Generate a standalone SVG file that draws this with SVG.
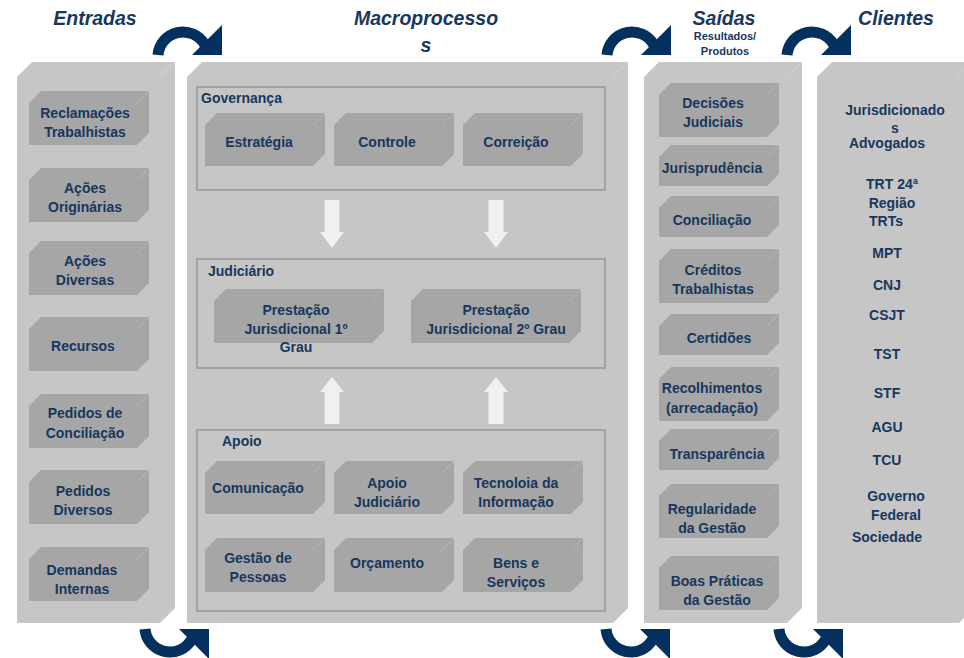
<svg xmlns="http://www.w3.org/2000/svg" width="964" height="658" viewBox="0 0 964 658">
<style>
text{font-family:"Liberation Sans",Arial,sans-serif;font-weight:bold;fill:#17375e;}
.t{font-size:14px;text-anchor:middle;}
.l{font-size:14px;}
.h{font-size:19.5px;font-style:italic;text-anchor:middle;}
.s{font-size:11px;text-anchor:middle;}
.col{fill:#c6c6c6;}
.node{fill:#a6a6a6;}
.hl{stroke:#b6b6b6;stroke-width:1;fill:none;}
.chl{stroke:#d6d6d6;stroke-width:1;fill:none;}
.frame{fill:none;stroke:#a2a2a2;stroke-width:2;}
.band{fill:none;stroke:#04305f;stroke-width:11;}
.head{fill:#04305f;}
.blk{fill:#f0f0f2;}
</style>
<defs>
<g id="curveTop"><path class="band" d="M5,55 A25,25 0 0 1 51.6,44.5"/><polygon class="head" points="69,25 69,55 39,55"/></g>
<g id="curveBot"><path class="band" d="M5,629 A25,25 0 0 0 51.6,639.5"/><polygon class="head" points="39,629 69,629 69,659"/></g>
</defs>
<rect width="964" height="658" fill="#ffffff"/>

<!-- headers -->
<text class="h" x="95" y="25">Entradas</text>
<text class="h" x="426" y="25">Macroprocesso</text>
<text class="h" x="426" y="52">s</text>
<text class="h" x="724" y="25">Saídas</text>
<text class="s" x="725" y="40">Resultados/</text>
<text class="s" x="725" y="55">Produtos</text>
<text class="h" x="896" y="25">Clientes</text>

<!-- columns -->
<g id="col-entradas"><polygon class="col" points="17,77 32,62 175,62 175,608 160,623 17,623"/><line class="chl" x1="175" y1="62" x2="159" y2="77"/></g>
<g id="col-macro"><polygon class="col" points="187,77 202,62 628,62 628,608 613,623 187,623"/><line class="chl" x1="628" y1="62" x2="612" y2="77"/></g>
<g id="col-saidas"><polygon class="col" points="644,77 659,62 802,62 802,608 787,623 644,623"/><line class="chl" x1="802" y1="62" x2="786" y2="77"/></g>
<g id="col-clientes"><polygon class="col" points="817,77 832,62 974,62 974,608 959,623 817,623"/><line class="chl" x1="972" y1="62" x2="956" y2="77"/></g>

<!-- Entradas nodes -->
<g id="n-reclamacoes"><polygon class="node" points="29,103 41,91 149,91 149,133 137,145 29,145"/><line class="hl" x1="149" y1="91" x2="137" y2="103"/><text class="t" x="85" y="118">Reclamações</text><text class="t" x="85" y="137">Trabalhistas</text></g>
<g id="n-originarias"><polygon class="node" points="29,180 41,168 149,168 149,210 137,222 29,222"/><line class="hl" x1="149" y1="168" x2="137" y2="180"/><text class="t" x="85" y="193">Ações</text><text class="t" x="85" y="212">Originárias</text></g>
<g id="n-diversas"><polygon class="node" points="29,253 41,241 149,241 149,283 137,295 29,295"/><line class="hl" x1="149" y1="241" x2="137" y2="253"/><text class="t" x="85" y="266">Ações</text><text class="t" x="85" y="285">Diversas</text></g>
<g id="n-recursos"><polygon class="node" points="29,329 41,317 149,317 149,359 137,371 29,371"/><line class="hl" x1="149" y1="317" x2="137" y2="329"/><text class="t" x="83" y="351">Recursos</text></g>
<g id="n-conciliacao-in"><polygon class="node" points="29,406 41,394 149,394 149,436 137,448 29,448"/><line class="hl" x1="149" y1="394" x2="137" y2="406"/><text class="t" x="85" y="418">Pedidos de</text><text class="t" x="85" y="438">Conciliação</text></g>
<g id="n-pedidos-diversos"><polygon class="node" points="29,482 41,470 149,470 149,512 137,524 29,524"/><line class="hl" x1="149" y1="470" x2="137" y2="482"/><text class="t" x="83" y="496">Pedidos</text><text class="t" x="83" y="515">Diversos</text></g>
<g id="n-demandas"><polygon class="node" points="29,559 41,547 149,547 149,589 137,601 29,601"/><line class="hl" x1="149" y1="547" x2="137" y2="559"/><text class="t" x="82" y="575">Demandas</text><text class="t" x="82" y="594">Internas</text></g>

<!-- Macroprocessos frames -->
<g id="f-governanca"><rect class="frame" x="197" y="87" width="408" height="103"/><text class="l" x="201" y="103">Governança</text></g>
<g id="f-judiciario"><rect class="frame" x="197" y="259" width="408" height="109"/><text class="l" x="208" y="276">Judiciário</text></g>
<g id="f-apoio"><rect class="frame" x="197" y="430" width="408" height="181"/><text class="l" x="222" y="446">Apoio</text></g>

<g id="n-estrategia"><polygon class="node" points="205,125 217,113 325,113 325,154 313,166 205,166"/><line class="hl" x1="325" y1="113" x2="313" y2="125"/><text class="t" x="259" y="147">Estratégia</text></g>
<g id="n-controle"><polygon class="node" points="334,125 346,113 454,113 454,154 442,166 334,166"/><line class="hl" x1="454" y1="113" x2="442" y2="125"/><text class="t" x="387" y="147">Controle</text></g>
<g id="n-correicao"><polygon class="node" points="463,125 475,113 583,113 583,154 571,166 463,166"/><line class="hl" x1="583" y1="113" x2="571" y2="125"/><text class="t" x="516" y="147">Correição</text></g>

<g id="n-prest1"><polygon class="node" points="214,301 226,289 384,289 384,331 372,343 214,343"/><line class="hl" x1="384" y1="289" x2="372" y2="301"/><text class="t" x="296" y="315">Prestação</text><text class="t" x="296" y="334">Jurisdicional 1º</text><text class="t" x="296" y="352">Grau</text></g>
<g id="n-prest2"><polygon class="node" points="411,301 423,289 581,289 581,331 569,343 411,343"/><line class="hl" x1="581" y1="289" x2="569" y2="301"/><text class="t" x="496" y="315">Prestação</text><text class="t" x="496" y="334">Jurisdicional 2º Grau</text></g>

<g id="n-comunicacao"><polygon class="node" points="205,473 217,461 325,461 325,502 313,514 205,514"/><line class="hl" x1="325" y1="461" x2="313" y2="473"/><text class="t" x="258" y="493">Comunicação</text></g>
<g id="n-apoiojud"><polygon class="node" points="334,473 346,461 454,461 454,502 442,514 334,514"/><line class="hl" x1="454" y1="461" x2="442" y2="473"/><text class="t" x="387" y="488">Apoio</text><text class="t" x="387" y="507">Judiciário</text></g>
<g id="n-ti"><polygon class="node" points="463,473 475,461 583,461 583,502 571,514 463,514"/><line class="hl" x1="583" y1="461" x2="571" y2="473"/><text class="t" x="516" y="488">Tecnoloia da</text><text class="t" x="516" y="507">Informação</text></g>
<g id="n-pessoas"><polygon class="node" points="205,550 217,538 325,538 325,580 313,592 205,592"/><line class="hl" x1="325" y1="538" x2="313" y2="550"/><text class="t" x="258" y="563">Gestão de</text><text class="t" x="258" y="582">Pessoas</text></g>
<g id="n-orcamento"><polygon class="node" points="334,550 346,538 454,538 454,580 442,592 334,592"/><line class="hl" x1="454" y1="538" x2="442" y2="550"/><text class="t" x="387" y="568">Orçamento</text></g>
<g id="n-bens"><polygon class="node" points="463,550 475,538 583,538 583,580 571,592 463,592"/><line class="hl" x1="583" y1="538" x2="571" y2="550"/><text class="t" x="516" y="568">Bens e</text><text class="t" x="516" y="587">Serviços</text></g>

<!-- Saídas nodes -->
<g id="n-decisoes"><polygon class="node" points="659,95 671,83 779,83 779,125 767,137 659,137"/><line class="hl" x1="779" y1="83" x2="767" y2="95"/><text class="t" x="713" y="108">Decisões</text><text class="t" x="713" y="127">Judiciais</text></g>
<g id="n-jurisprudencia"><polygon class="node" points="659,157 671,145 779,145 779,174 767,186 659,186"/><line class="hl" x1="779" y1="145" x2="767" y2="157"/><text class="t" x="712" y="173">Jurisprudência</text></g>
<g id="n-conciliacao"><polygon class="node" points="659,208 671,196 779,196 779,225 767,237 659,237"/><line class="hl" x1="779" y1="196" x2="767" y2="208"/><text class="t" x="712" y="225">Conciliação</text></g>
<g id="n-creditos"><polygon class="node" points="659,261 671,249 779,249 779,291 767,303 659,303"/><line class="hl" x1="779" y1="249" x2="767" y2="261"/><text class="t" x="713" y="275">Créditos</text><text class="t" x="713" y="294">Trabalhistas</text></g>
<g id="n-certidoes"><polygon class="node" points="659,326 671,314 779,314 779,343 767,355 659,355"/><line class="hl" x1="779" y1="314" x2="767" y2="326"/><text class="t" x="719" y="343">Certidões</text></g>
<g id="n-recolhimentos"><polygon class="node" points="659,379 671,367 779,367 779,409 767,421 659,421"/><line class="hl" x1="779" y1="367" x2="767" y2="379"/><text class="t" x="712" y="393">Recolhimentos</text><text class="t" x="712" y="413">(arrecadação)</text></g>
<g id="n-transparencia"><polygon class="node" points="659,441 671,429 779,429 779,458 767,470 659,470"/><line class="hl" x1="779" y1="429" x2="767" y2="441"/><text class="t" x="717" y="459">Transparência</text></g>
<g id="n-regularidade"><polygon class="node" points="659,496 671,484 779,484 779,526 767,538 659,538"/><line class="hl" x1="779" y1="484" x2="767" y2="496"/><text class="t" x="712" y="514">Regularidade</text><text class="t" x="712" y="533">da Gestão</text></g>
<g id="n-boaspraticas"><polygon class="node" points="659,568 671,556 779,556 779,598 767,610 659,610"/><line class="hl" x1="779" y1="556" x2="767" y2="568"/><text class="t" x="717" y="586">Boas Práticas</text><text class="t" x="717" y="605">da Gestão</text></g>

<!-- Clientes -->
<g id="clientes-list">
<text class="t" x="895" y="115">Jurisdicionado</text>
<text class="t" x="895" y="133">s</text>
<text class="t" x="887" y="148">Advogados</text>
<text class="t" x="892" y="189">TRT 24ª</text>
<text class="t" x="892" y="208">Região</text>
<text class="t" x="886" y="226">TRTs</text>
<text class="t" x="887" y="258">MPT</text>
<text class="t" x="887" y="290">CNJ</text>
<text class="t" x="887" y="320">CSJT</text>
<text class="t" x="887" y="359">TST</text>
<text class="t" x="887" y="398">STF</text>
<text class="t" x="887" y="432">AGU</text>
<text class="t" x="887" y="465">TCU</text>
<text class="t" x="896" y="501">Governo</text>
<text class="t" x="896" y="520">Federal</text>
<text class="t" x="887" y="542">Sociedade</text>
</g>

<!-- connectors -->
<g id="connectors">
<use href="#curveTop" x="153"/>
<use href="#curveTop" x="602"/>
<use href="#curveTop" x="782"/>
<use href="#curveBot" x="140"/>
<use href="#curveBot" x="601"/>
<use href="#curveBot" x="774"/>
<polygon class="blk" points="324.5,200 339.5,200 339.5,232 344,232 332,248 320,232 324.5,232"/>
<polygon class="blk" points="488.5,200 503.5,200 503.5,232 508,232 496,248 484,232 488.5,232"/>
<polygon class="blk" points="332,377 344,392 339.5,392 339.5,424 324.5,424 324.5,392 320,392"/>
<polygon class="blk" points="496,377 508,392 503.5,392 503.5,424 488.5,424 488.5,392 484,392"/>
</g>
</svg>
